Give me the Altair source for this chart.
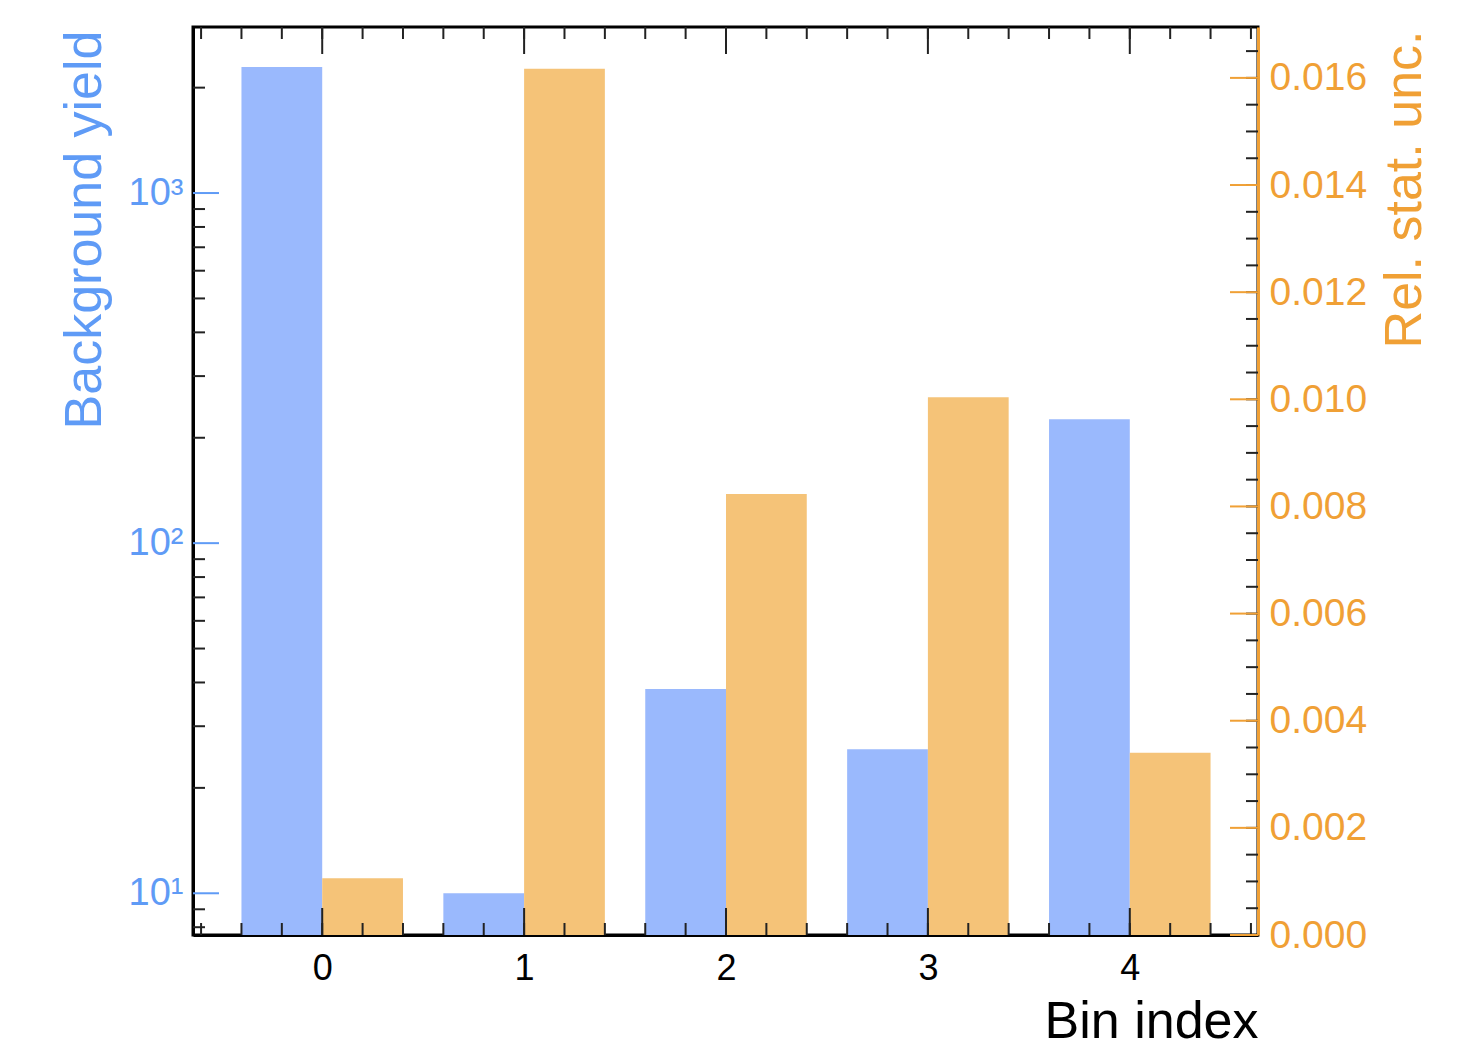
import altair as alt
import numpy as np
import pandas as pd

# Per-bin values
bins = [0, 1, 2, 3, 4]
background_yield = [2290, 10.0, 38.3, 25.8, 226]
rel_stat_unc = [0.00106, 0.01617, 0.00823, 0.01004, 0.0034]

# Axis ranges and tick positions
X_DOMAIN = [-0.64, 4.635]
YIELD_DOMAIN = [7.6, 2980]
UNC_DOMAIN = [0.0, 0.01695]
x_major = [0, 1, 2, 3, 4]
x_minor = [round(v, 1) for v in np.arange(-0.6, 4.61, 0.2)]
yield_major = [10, 100, 1000]
yield_minor = [8, 9, 20, 30, 40, 50, 60, 70, 80, 90,
               200, 300, 400, 500, 600, 700, 800, 900, 2000]
unc_major = [round(v, 3) for v in np.arange(0.0, 0.0161, 0.002)]
unc_minor = [round(v, 4) for v in np.arange(0.0, 0.0166, 0.0005)]

W, H = 1065, 908
FONT = "Liberation Sans"
BLUE_BAR = "#9ab9fd"
ORANGE_BAR = "#f5c378"
BLUE_TXT = "#5f9bf6"
ORANGE_TXT = "#f0a035"
TICK = "#222222"

bars = pd.DataFrame({"bin": bins, "yield": background_yield, "unc": rel_stat_unc})

x_scale = alt.Scale(domain=X_DOMAIN, nice=False, zero=False)
y_log = alt.Scale(type="log", domain=YIELD_DOMAIN, nice=False)
y_lin = alt.Scale(domain=UNC_DOMAIN, nice=False, zero=True)

# Shared bottom axis: every layer on the x scale carries the same spec
x_axis = alt.Axis(
    values=x_major, format="d", ticks=False, grid=False,
    domainColor="black", domainWidth=3,
    labelFontSize=36, labelColor="black", labelPadding=16, labelFont=FONT,
    title="Bin index", titleFont=FONT, titleFontSize=52, titleFontWeight="normal",
    titleColor="black", titleAnchor="end", titleAlign="right",
    titleX=W, titleY=102, titleBaseline="alphabetic",
)

left_axis = alt.Axis(
    values=yield_major, ticks=False, grid=False,
    domainColor="black", domainWidth=3,
    labelExpr="datum.value == 10 ? '10\u00b9' : datum.value == 100 ? '10\u00b2' : '10\u00b3'",
    labelFontSize=38, labelColor=BLUE_TXT, labelPadding=10, labelFont=FONT,
    title="Background yield", titleFont=FONT, titleFontSize=52, titleFontWeight="normal",
    titleColor=BLUE_TXT, titleAngle=270, titleAlign="right", titleBaseline="alphabetic",
    titleX=-93, titleY=3,
)

right_axis = alt.Axis(
    orient="right", values=unc_major, format=".3f", ticks=False, grid=False,
    domainColor=ORANGE_TXT, domainWidth=3,
    labelFontSize=39, labelColor=ORANGE_TXT, labelPadding=11, labelFont=FONT,
    title="Rel. stat. unc.", titleFont=FONT, titleFontSize=52, titleFontWeight="normal",
    titleColor=ORANGE_TXT, titleAngle=270, titleAlign="right", titleBaseline="alphabetic",
    titleX=162, titleY=3,
)

# Background yield bars (left half of each bin, log scale)
blue_bars = (
    alt.Chart(bars)
    .transform_calculate(lo="datum.bin - 0.4")
    .mark_bar(color=BLUE_BAR)
    .encode(
        x=alt.X("lo:Q", scale=x_scale, axis=x_axis),
        x2="bin:Q",
        y=alt.Y("yield:Q", scale=y_log, axis=left_axis),
        y2=alt.datum(YIELD_DOMAIN[0]),
    )
)

# Relative statistical uncertainty bars (right half of each bin, linear scale)
orange_bars = (
    alt.Chart(bars)
    .transform_calculate(hi="datum.bin + 0.4")
    .mark_bar(color=ORANGE_BAR)
    .encode(
        x=alt.X("bin:Q", scale=x_scale, axis=x_axis),
        x2="hi:Q",
        y=alt.Y("unc:Q", scale=y_lin, axis=right_axis),
        y2=alt.datum(0),
    )
)


def x_ticks(values, length, side):
    df = pd.DataFrame({"v": values})
    if side == "bottom":
        y0, y1 = alt.value(H), alt.value(H - length)
    else:
        y0, y1 = alt.value(0), alt.value(length)
    return alt.Chart(df).mark_rule(color=TICK, strokeWidth=2).encode(
        x=alt.X("v:Q", scale=x_scale, axis=x_axis), y=y0, y2=y1,
    )


def yield_ticks(values, length, color):
    df = pd.DataFrame({"v": values})
    return alt.Chart(df).mark_rule(color=color, strokeWidth=2).encode(
        y=alt.Y("v:Q", scale=y_log, axis=None),
        x=alt.value(0), x2=alt.value(length),
    )


def unc_ticks(values, length, color):
    df = pd.DataFrame({"v": values})
    return alt.Chart(df).mark_rule(color=color, strokeWidth=2).encode(
        y=alt.Y("v:Q", scale=y_lin, axis=None),
        x=alt.value(W), x2=alt.value(W - length),
    )


chart = (
    alt.layer(
        blue_bars,
        orange_bars,
        x_ticks(x_minor, 12, "bottom"),
        x_ticks(x_major, 27, "bottom"),
        x_ticks(x_minor, 12, "top"),
        x_ticks(x_major, 27, "top"),
        yield_ticks(yield_minor, 12, TICK),
        yield_ticks(yield_major, 26, BLUE_TXT),
        unc_ticks(unc_minor, 12, TICK),
        unc_ticks(unc_major, 28, ORANGE_TXT),
    )
    .resolve_scale(y="independent")
    .properties(
        width=W,
        height=H,
        padding={"left": 193, "top": 27, "right": 207, "bottom": 107},
        autosize=alt.AutoSizeParams(type="none"),
    )
    .configure(font=FONT, background="white")
    .configure_view(stroke="black", strokeWidth=3)
)

chart.save("out.html", embed_options={"renderer": "svg", "actions": False})
